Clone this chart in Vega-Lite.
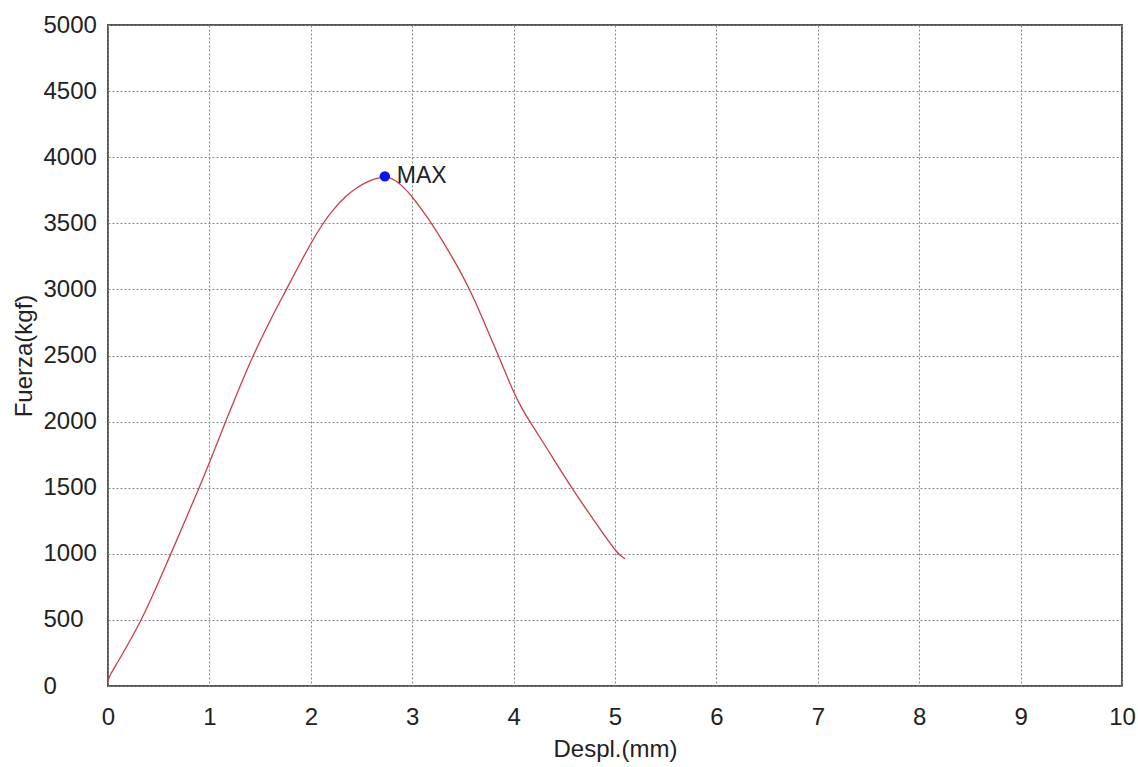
{
  "$schema": "https://vega.github.io/schema/vega-lite/v6.json",
  "width": 1014,
  "height": 661,
  "autosize": {"type": "none"},
  "padding": {"left": 108, "top": 25, "right": 16, "bottom": 81},
  "background": "white",
  "config": {
    "font": "Liberation Sans",
    "view": {"stroke": "#555555", "strokeWidth": 2},
    "axis": {
      "grid": true,
      "gridColor": "#8a8a8a",
      "gridDash": [2, 2],
      "gridWidth": 1,
      "domain": false,
      "ticks": false,
      "labelFlush": false,
      "labelOverlap": false,
      "labelFont": "Liberation Sans",
      "labelFontSize": 24,
      "labelColor": "#222222",
      "titleFont": "Liberation Sans",
      "titleFontSize": 24,
      "titleFontWeight": "normal",
      "titleColor": "#222222"
    }
  },
  "datasets": {
    "curve": [
      {"d": 0.0, "f": 40},
      {"d": 0.02, "f": 85},
      {"d": 0.1, "f": 185},
      {"d": 0.2, "f": 320},
      {"d": 0.33, "f": 500},
      {"d": 0.47, "f": 735},
      {"d": 0.62, "f": 1000},
      {"d": 0.76, "f": 1250},
      {"d": 0.9, "f": 1500},
      {"d": 1.03, "f": 1747},
      {"d": 1.16, "f": 2000},
      {"d": 1.3, "f": 2265},
      {"d": 1.43, "f": 2500},
      {"d": 1.6, "f": 2770},
      {"d": 1.76, "f": 3000},
      {"d": 1.9, "f": 3207},
      {"d": 2.0, "f": 3347},
      {"d": 2.11, "f": 3490},
      {"d": 2.22, "f": 3605},
      {"d": 2.35, "f": 3709},
      {"d": 2.45, "f": 3771},
      {"d": 2.58, "f": 3823},
      {"d": 2.65, "f": 3840},
      {"d": 2.73, "f": 3852},
      {"d": 2.8, "f": 3840},
      {"d": 2.85, "f": 3815},
      {"d": 2.92, "f": 3770},
      {"d": 3.0, "f": 3700},
      {"d": 3.1, "f": 3600},
      {"d": 3.21, "f": 3480},
      {"d": 3.4, "f": 3240},
      {"d": 3.57, "f": 3000},
      {"d": 3.7, "f": 2770},
      {"d": 3.85, "f": 2500},
      {"d": 4.0, "f": 2220},
      {"d": 4.08, "f": 2100},
      {"d": 4.16, "f": 2000},
      {"d": 4.33, "f": 1797},
      {"d": 4.57, "f": 1500},
      {"d": 4.8, "f": 1245},
      {"d": 5.02, "f": 1000},
      {"d": 5.1, "f": 962}
    ],
    "max": [{"d": 2.73, "f": 3855, "label": "MAX"}]
  },
  "layer": [
    {
      "data": {"name": "curve"},
      "mark": {"type": "line", "color": "#cc3d4a", "strokeWidth": 1.3, "interpolate": "basis"},
      "encoding": {
        "x": {
          "field": "d", "type": "quantitative",
          "scale": {"domain": [0, 10], "nice": false},
          "axis": {"values": [0,1,2,3,4,5,6,7,8,9,10], "format": "d", "title": "Despl.(mm)", "labelPadding": 19, "titlePadding": 8}
        },
        "y": {
          "field": "f", "type": "quantitative",
          "scale": {"domain": [0, 5000], "nice": false},
          "axis": {"values": [0,500,1000,1500,2000,2500,3000,3500,4000,4500,5000], "format": "d", "title": "Fuerza(kgf)", "labelAlign": "left", "labelPadding": 65, "titleX": -72}
        }
      }
    },
    {
      "data": {"name": "max"},
      "mark": {"type": "point", "filled": true, "color": "#0a14f0", "size": 110, "opacity": 1},
      "encoding": {
        "x": {"field": "d", "type": "quantitative"},
        "y": {"field": "f", "type": "quantitative"}
      }
    },
    {
      "data": {"name": "max"},
      "mark": {"type": "text", "align": "left", "baseline": "middle", "dx": 12, "dy": 0, "fontSize": 23, "color": "#222222", "font": "Liberation Sans"},
      "encoding": {
        "x": {"field": "d", "type": "quantitative"},
        "y": {"field": "f", "type": "quantitative"},
        "text": {"field": "label"}
      }
    }
  ]
}
